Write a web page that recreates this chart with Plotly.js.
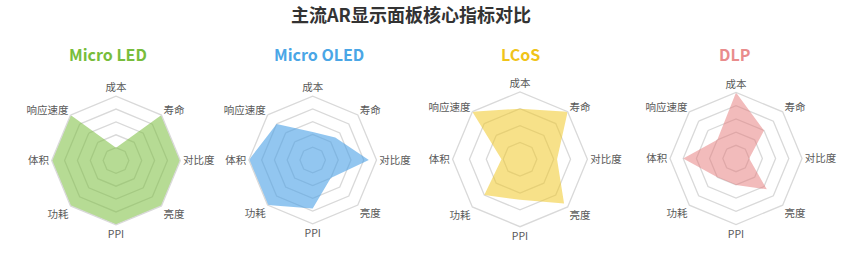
<!DOCTYPE html>
<html>
<head>
<meta charset="utf-8">
<script src="https://cdn.plot.ly/plotly-3.0.1.min.js"></script>
<style>html,body{margin:0;padding:0;background:#fff;}#chart{width:854px;height:258px;}</style>
</head>
<body>
<div id="chart"></div>
<script>
// ---- data ----
const categories = ['成本', '寿命', '对比度', '亮度', 'PPI', '功耗', '体积', '响应速度'];
const panelNames = ['Micro LED', 'Micro OLED', 'LCoS', 'DLP'];
const microLED  = [1, 5, 5, 5, 5, 5, 5, 5];
const microOLED = [2.2, 2.5, 4.4, 2, 3.8, 5, 5, 4];
const lcos      = [4, 5, 3.2, 4.7, 3.4, 4, 2.1, 5];
const dlp       = [5, 3, 1, 3.3, 2, 2, 4, 2];
const chartTitle = '主流AR显示面板核心指标对比';

// ---- styling / layout ----
const W = 854, H = 258;
const seriesList = [microLED, microOLED, lcos, dlp];
const panels = [
  {cx: 116,   cy: 160.5, R: 64.3, range: [0, 5], tick0: 0, color: '#78bd3c', fill: 'rgba(122,190,60,0.55)', tx: 108},
  {cx: 312.7, cy: 160,   R: 63.8, range: [0, 5], tick0: 0, color: '#4aa6e6', fill: 'rgba(74,160,230,0.6)',  tx: 318.5},
  {cx: 520,   cy: 159.3, R: 67.4, range: [1, 5], tick0: 1, color: '#f0c419', fill: 'rgba(240,200,40,0.55)', tx: 520.5},
  {cx: 736,   cy: 158.5, R: 66,   range: [0, 5], tick0: 0, color: '#e98c8c', fill: 'rgba(230,120,120,0.5)', tx: 734.5}
];
const FONT = '"Noto Sans CJK SC", "Noto Sans", sans-serif';

const traces = [];
const layout = {
  width: W, height: H,
  margin: {l: 0, r: 0, t: 0, b: 0},
  paper_bgcolor: '#fff',
  showlegend: false,
  font: {family: FONT, color: '#595959'},
  title: {
    text: chartTitle, x: 411 / W, xanchor: 'center', y: 1 - 16 / H, yanchor: 'middle',
    font: {family: FONT, size: 18, weight: 'bold', color: '#333333'}
  },
  annotations: []
};

panels.forEach((p, i) => {
  const key = i === 0 ? 'polar' : 'polar' + (i + 1);
  const vals = seriesList[i];
  traces.push({
    type: 'scatterpolar',
    subplot: key,
    r: vals.concat([vals[0]]),
    theta: categories.concat([categories[0]]),
    mode: 'lines',
    fill: 'toself',
    fillcolor: p.fill,
    line: {width: 0, color: p.fill},
    hoverinfo: 'skip'
  });
  layout[key] = {
    domain: {
      x: [(p.cx - p.R) / W, (p.cx + p.R) / W],
      y: [(H - p.cy - p.R) / H, (H - p.cy + p.R) / H]
    },
    gridshape: 'linear',
    bgcolor: 'rgba(0,0,0,0)',
    radialaxis: {
      range: p.range, tick0: p.tick0, dtick: 1,
      showticklabels: false, ticks: '', showline: false,
      showgrid: true, gridcolor: '#d9d9d9', gridwidth: 1.3
    },
    angularaxis: {
      type: 'category', categoryarray: categories,
      direction: 'clockwise', rotation: 90,
      showgrid: false, showline: true, linecolor: '#d9d9d9', linewidth: 1.3,
      ticks: '',
      tickfont: {family: FONT, size: 10.5, color: '#595959'}
    }
  };
  layout.annotations.push({
    text: panelNames[i], xref: 'paper', yref: 'paper',
    x: p.tx / W, y: 1 - 54 / H, xanchor: 'center', yanchor: 'middle',
    showarrow: false,
    font: {family: FONT, size: 16, weight: 'bold', color: p.color}
  });
});

Plotly.newPlot('chart', traces, layout, {displayModeBar: false, staticPlot: true});
</script>
</body>
</html>
